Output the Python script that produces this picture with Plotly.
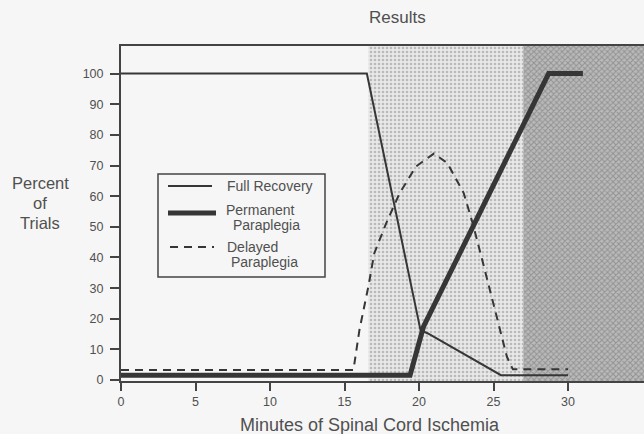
import plotly.graph_objects as go

# ---- data ----
full_x = [0, 16.5, 20.1, 20.6, 25.5, 30]
full_y = [100, 100, 16.3, 15.2, 1.6, 1.6]

perm_x = [0, 19.4, 20.3, 28.7, 31.0]
perm_y = [1.6, 1.6, 17.4, 100, 100]

delay_x = [0, 15.6, 16.0, 16.6, 17.0, 17.8, 18.7, 19.8, 21.0, 21.9, 23.0, 23.6, 24.3, 25.2, 25.9, 26.3, 30]
delay_y = [3.3, 3.3, 16.3, 30.5, 41.4, 51.2, 61, 69.7, 73.9, 70.8, 61, 51.2, 38.1, 20.7, 7.6, 3.5, 3.5]

light_zone = [16.6, 27.0]
dark_zone = [27.0, 35.2]

x_ticks = [0, 5, 10, 15, 20, 25, 30]
y_ticks = [0, 10, 20, 30, 40, 50, 60, 70, 80, 90, 100]

legend_names = ["Full Recovery", "Permanent", "Paraplegia", "Delayed", "Paraplegia"]
y_title_lines = ["Percent", "of", "Trials"]

X_RANGE = [0, 35.1]
Y_RANGE = [-0.3, 109]

W, H = 644, 434
ML, MR, MT, MB = 121, 0, 46, 53
PW, PH = W - ML - MR, H - MT - MB

def px(x):
    return (x - ML) / PW

def py(y):
    return (H - MB - y) / PH

FONT = "Liberation Sans, Arial, Helvetica, sans-serif"
INK = "#363636"
TXT = "#505050"

fig = go.Figure()

def zone(xs, bg, fg, shape, size, solidity):
    x0, x1 = xs
    y0, y1 = Y_RANGE
    fig.add_trace(go.Scatter(
        x=[x0, x1, x1, x0, x0], y=[y0, y0, y1, y1, y0],
        mode="lines", line=dict(width=0), fill="toself",
        fillcolor=bg,
        fillpattern=dict(shape=shape, bgcolor=bg, fgcolor=fg, size=size, solidity=solidity),
        hoverinfo="skip", showlegend=False))

zone(light_zone, "#e8e8e8", "#8c8c8c", ".", 4, 0.35)
zone(dark_zone, "#bababa", "#6a6a6a", "x", 4, 0.45)

fig.add_trace(go.Scatter(x=full_x, y=full_y, mode="lines", name="Full Recovery",
                         line=dict(color=INK, width=2), showlegend=False))
fig.add_trace(go.Scatter(x=perm_x, y=perm_y, mode="lines", name="Permanent Paraplegia",
                         line=dict(color=INK, width=5), showlegend=False))
fig.add_trace(go.Scatter(x=delay_x, y=delay_y, mode="lines", name="Delayed Paraplegia",
                         line=dict(color=INK, width=2, dash="8px,6px"), showlegend=False))

shapes = [
    # legend box
    dict(type="rect", xref="paper", yref="paper", x0=px(158), x1=px(325), y0=py(277), y1=py(174),
         line=dict(color="#444", width=1.5), fillcolor="#f6f6f6", layer="above"),
    dict(type="line", xref="paper", yref="paper", x0=px(168), x1=px(212), y0=py(186), y1=py(186),
         line=dict(color=INK, width=2), layer="above"),
    dict(type="line", xref="paper", yref="paper", x0=px(168), x1=px(216), y0=py(213), y1=py(213),
         line=dict(color=INK, width=5), layer="above"),
    dict(type="line", xref="paper", yref="paper", x0=px(170), x1=px(214), y0=py(247), y1=py(247),
         line=dict(color=INK, width=2, dash="8px,6px"), layer="above"),
]

legend_pos = [(225, 186), (224, 210), (231, 225), (225, 247), (229, 262)]
annotations = []
for name, (lx, ly) in zip(legend_names, legend_pos):
    annotations.append(dict(text=name, xref="paper", yref="paper", x=px(lx), y=py(ly),
                            showarrow=False, xanchor="left", yanchor="middle",
                            font=dict(size=14, color=TXT)))

annotations += [
    dict(text="Results", xref="paper", yref="paper", x=px(397), y=py(17),
         showarrow=False, font=dict(size=17, color=TXT), xanchor="center", yanchor="middle"),
    dict(text="Minutes of Spinal Cord Ischemia", xref="paper", yref="paper", x=px(370), y=py(425),
         showarrow=False, font=dict(size=18, color=TXT), xanchor="center", yanchor="middle"),
]
for line_txt, ly in zip(y_title_lines, [183, 203, 223]):
    annotations.append(dict(text=line_txt, xref="paper", yref="paper", x=px(40), y=py(ly),
                            showarrow=False, font=dict(size=16.5, color=TXT),
                            xanchor="center", yanchor="middle"))

fig.update_layout(
    width=W, height=H,
    margin=dict(l=ML, r=MR, t=MT, b=MB),
    paper_bgcolor="#f6f6f6", plot_bgcolor="#f6f6f6",
    font=dict(family=FONT, color=TXT),
    showlegend=False,
    xaxis=dict(range=X_RANGE, tickvals=x_ticks, ticks="outside", ticklen=8, tickwidth=1.5,
               tickcolor="#444", showline=True, linecolor="#444", linewidth=2, mirror=True,
               showgrid=False, zeroline=False, tickfont=dict(size=12.5, color=TXT)),
    yaxis=dict(range=Y_RANGE, tickvals=y_ticks, ticks="outside", ticklen=9, tickwidth=1.5,
               tickcolor="#444", showline=True, linecolor="#444", linewidth=2,
               showgrid=False, zeroline=False, tickfont=dict(size=12.5, color=TXT),
               ticklabelstandoff=4),
    shapes=shapes,
    annotations=annotations,
)

fig.write_html("out.html", config={"displayModeBar": False},
               post_script="document.body.style.margin='0';")
